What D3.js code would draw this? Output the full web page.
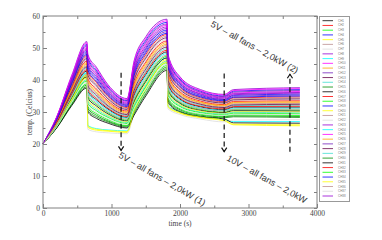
<!DOCTYPE html>
<html>
<head>
<meta charset="utf-8">
<script src="https://cdn.jsdelivr.net/npm/d3@7"></script>
<style>
  body { margin: 0; background: #fff; }
</style>
</head>
<body>
<div id="chart"></div>
<script>
// sample times (s) shared by every channel
var times = [0, 200, 420, 640, 655, 780, 950, 1226, 1330, 1500, 1810, 1825, 2000, 2300, 2650, 2780, 3750];

// temperatures (Celcius) per channel, CH1 .. CH38
var temps = [
    [20, 26.3, 35.5, 42.8, 36.5, 33.8, 30.9, 28.3, 35.2, 41.7, 48.8, 38.5, 34.0, 31.6, 30.7, 31.5, 31.5],
    [20, 27.4, 38.6, 47.6, 42.5, 39.2, 34.9, 31.4, 40.8, 47.9, 54.2, 43.5, 37.7, 34.4, 33.2, 34.4, 34.7],
    [20, 26.0, 34.6, 41.5, 34.9, 32.4, 29.8, 27.5, 33.6, 40.0, 47.4, 37.1, 33.0, 30.8, 30.0, 30.7, 30.6],
    [20, 28.3, 40.9, 51.1, 46.9, 43.0, 37.8, 33.6, 45.0, 52.4, 58.0, 47.1, 40.3, 36.5, 35.0, 36.5, 37.0],
    [20, 26.0, 33.5, 41.0, 25.2, 24.3, 24.0, 23.6, 30.0, 37.0, 46.0, 31.5, 29.6, 28.2, 27.2, 26.0, 25.7],
    [20, 27.3, 38.3, 47.2, 42.0, 38.7, 34.5, 31.1, 40.3, 47.3, 53.7, 43.0, 37.3, 34.2, 33.0, 34.1, 34.4],
    [20, 27.1, 37.8, 46.3, 40.9, 37.7, 33.8, 30.5, 39.3, 46.2, 52.7, 42.1, 36.7, 33.6, 32.5, 33.6, 33.8],
    [20, 28.5, 41.5, 52.0, 48.0, 44.0, 38.5, 34.2, 46.0, 53.5, 59.0, 48.0, 41.0, 37.0, 35.5, 37.0, 37.6],
    [20, 26.4, 34.2, 42.2, 25.8, 24.8, 24.4, 24.1, 30.8, 38.0, 47.0, 32.0, 30.0, 28.6, 27.6, 27.0, 27.0],
    [20, 28.1, 40.3, 50.2, 45.8, 42.1, 37.0, 33.1, 43.9, 51.3, 57.1, 46.2, 39.7, 36.0, 34.6, 35.9, 36.4],
    [20, 26.8, 36.9, 45.0, 39.3, 36.2, 32.7, 29.7, 37.8, 44.5, 51.2, 40.7, 35.7, 32.9, 31.9, 32.8, 32.9],
    [20, 28.2, 40.6, 50.7, 46.4, 42.5, 37.4, 33.4, 44.5, 51.8, 57.5, 46.6, 40.0, 36.2, 34.8, 36.2, 36.7],
    [20, 27.2, 38.0, 46.7, 41.5, 38.2, 34.1, 30.8, 39.8, 46.8, 53.2, 42.5, 37.0, 33.9, 32.8, 33.8, 34.1],
    [20, 26.5, 36.0, 43.7, 37.6, 34.8, 31.6, 28.9, 36.2, 42.8, 49.8, 39.4, 34.7, 32.1, 31.2, 32.0, 32.1],
    [20, 25.2, 32.6, 38.4, 31.1, 29.0, 27.2, 25.6, 30.0, 36.1, 44.0, 33.9, 30.7, 29.0, 28.5, 28.8, 28.6],
    [20, 25.8, 34.3, 41.0, 34.4, 31.9, 29.4, 27.2, 33.1, 39.5, 46.9, 36.6, 32.7, 30.5, 29.8, 30.4, 30.3],
    [20, 27.0, 37.5, 45.9, 40.4, 37.2, 33.4, 30.3, 38.8, 45.6, 52.2, 41.6, 36.3, 33.4, 32.3, 33.3, 33.5],
    [20, 25.3, 32.9, 38.8, 31.6, 29.5, 27.6, 25.8, 30.5, 36.7, 44.5, 34.4, 31.0, 29.3, 28.7, 29.1, 28.9],
    [20, 27.8, 39.5, 48.9, 44.2, 40.6, 36.0, 32.2, 42.4, 49.6, 55.6, 44.8, 38.7, 35.2, 33.9, 35.2, 35.6],
    [20, 25.7, 34.0, 40.6, 33.8, 31.4, 29.0, 26.9, 32.6, 38.9, 46.4, 36.2, 32.3, 30.3, 29.6, 30.1, 30.0],
    [20, 26.7, 36.6, 44.5, 38.7, 35.8, 32.3, 29.4, 37.2, 44.0, 50.8, 40.3, 35.3, 32.6, 31.6, 32.5, 32.7],
    [20, 25.8, 33.0, 40.2, 24.6, 23.8, 23.5, 23.2, 29.5, 36.2, 45.0, 31.0, 29.2, 27.8, 26.9, 27.5, 27.6],
    [20, 28.0, 40.1, 49.8, 45.3, 41.6, 36.7, 32.8, 43.4, 50.7, 56.6, 45.7, 39.3, 35.7, 34.4, 35.7, 36.1],
    [20, 26.2, 35.2, 42.3, 36.0, 33.3, 30.5, 28.1, 34.7, 41.2, 48.3, 38.0, 33.7, 31.3, 30.5, 31.2, 31.2],
    [20, 28.4, 41.2, 51.6, 47.5, 43.5, 38.1, 33.9, 45.5, 52.9, 58.5, 47.5, 40.7, 36.7, 35.3, 36.7, 37.3],
    [20, 26.9, 37.2, 45.4, 39.8, 36.7, 33.0, 30.0, 38.3, 45.1, 51.7, 41.2, 36.0, 33.1, 32.1, 33.0, 33.2],
    [20, 27.7, 39.2, 48.5, 43.6, 40.1, 35.6, 32.0, 41.9, 49.0, 55.1, 44.4, 38.3, 34.9, 33.7, 34.9, 35.3],
    [20, 26.6, 36.3, 44.1, 38.2, 35.3, 31.9, 29.2, 36.7, 43.4, 50.3, 39.8, 35.0, 32.4, 31.4, 32.2, 32.4],
    [20, 25.6, 33.7, 40.1, 33.3, 30.9, 28.7, 26.7, 32.1, 38.4, 45.9, 35.7, 32.0, 30.0, 29.4, 29.9, 29.7],
    [20, 25.1, 32.3, 37.9, 30.5, 28.5, 26.9, 25.3, 29.5, 35.6, 43.5, 33.5, 30.3, 28.7, 28.2, 28.5, 28.3],
    [20, 25.0, 32.0, 37.5, 30.0, 28.0, 26.5, 25.0, 29.0, 35.0, 43.0, 33.0, 30.0, 28.5, 27.8, 26.6, 26.5],
    [20, 26.4, 35.7, 43.2, 37.1, 34.3, 31.2, 28.6, 35.7, 42.3, 49.3, 38.9, 34.3, 31.8, 31.0, 31.7, 31.8],
    [20, 25.5, 33.4, 39.7, 32.7, 30.4, 28.3, 26.4, 31.6, 37.8, 45.4, 35.3, 31.7, 29.8, 29.1, 29.6, 29.4],
    [20, 27.5, 38.9, 48.0, 43.1, 39.6, 35.2, 31.7, 41.4, 48.5, 54.6, 43.9, 38.0, 34.7, 33.5, 34.6, 35.0],
    [20, 26.2, 33.8, 41.6, 25.5, 24.6, 24.2, 23.9, 30.4, 37.5, 45.5, 31.8, 29.8, 28.4, 27.4, 26.2, 26.0],
    [20, 26.1, 34.9, 41.9, 35.5, 32.8, 30.1, 27.8, 34.2, 40.6, 47.8, 37.5, 33.3, 31.1, 30.3, 30.9, 30.9],
    [20, 25.4, 33.2, 39.3, 32.2, 29.9, 27.9, 26.1, 31.1, 37.2, 44.9, 34.8, 31.3, 29.5, 28.9, 29.3, 29.2],
    [20, 27.9, 39.8, 49.4, 44.7, 41.1, 36.3, 32.5, 42.9, 50.1, 56.1, 45.3, 39.0, 35.5, 34.1, 35.4, 35.9]
];

var channels = temps.map(function (d, i) { return "CH" + (i + 1); });

// xmgrace style colour cycle
var palette = ["#000000", "#ff0000", "#00ff00", "#0000ff", "#ffff00", "#bc8f8f", "#dcdcdc",
    "#9400d3", "#00ffff", "#ff00ff", "#ffa500", "#7221bc", "#670748", "#40e0d0", "#008b00"];

var xTicks = [0, 1000, 2000, 3000, 4000];
var xMinor = [500, 1500, 2500, 3500];
var yTicks = [0, 10, 20, 30, 40, 50, 60];
var yMinor = [5, 15, 25, 35, 45, 55];

// dashed markers: time, from temp, to temp (arrow at the "to" end)
var markers = [
    { t: 1140, from: 42.3, to: 18.0, label: "5V \u2013 all fans \u2013 2,0kW (1)" },
    { t: 2645, from: 42.0, to: 17.6, label: "10V \u2013 all fans \u2013 2,0kW" },
    { t: 3605, from: 17.6, to: 41.8, label: "5V \u2013 all fans \u2013 2,0kW (2)" }
];

var W = 382, H = 240;
var mL = 43, mR = 317, mT = 16, mB = 208;
var serif = "'Liberation Serif', 'DejaVu Serif', serif";
var axisColor = "#808080", textColor = "#444";

var svg = d3.select("#chart")
    .append("svg")
    .attr("width", W)
    .attr("height", H);

var x = d3.scaleLinear().domain([0, 4000]).range([mL, mR]);
var y = d3.scaleLinear().domain([0, 60]).range([mB, mT]);

// lines
var lineGen = d3.line()
    .x(function (d, i) { return x(times[i]); })
    .y(function (d) { return y(d); })
    .curve(d3.curveMonotoneX);

svg.append("g")
    .selectAll("path")
    .data(temps)
    .enter()
    .append("path")
    .attr("d", lineGen)
    .attr("fill", "none")
    .attr("stroke", function (d, i) { return palette[i % palette.length]; })
    .attr("stroke-width", 0.8)
    .attr("stroke-linejoin", "round");

// frame
svg.append("rect")
    .attr("x", mL)
    .attr("y", mT)
    .attr("width", mR - mL)
    .attr("height", mB - mT)
    .attr("fill", "none")
    .attr("stroke", axisColor)
    .attr("stroke-width", 1);

function styleAxis(g) {
    g.select(".domain").remove();
    g.selectAll("line").attr("stroke", axisColor);
    g.selectAll("text")
        .attr("font-family", serif)
        .attr("font-size", "7.5px")
        .attr("fill", textColor);
}

svg.append("g")
    .attr("transform", "translate(0," + mB + ")")
    .call(d3.axisBottom(x).tickValues(xTicks).tickSize(-4).tickPadding(3).tickFormat(d3.format("d")))
    .call(styleAxis);
svg.append("g")
    .attr("transform", "translate(0," + mB + ")")
    .call(d3.axisBottom(x).tickValues(xMinor).tickSize(-2.5).tickFormat(""))
    .call(styleAxis);
svg.append("g")
    .attr("transform", "translate(0," + mT + ")")
    .call(d3.axisTop(x).tickValues(xTicks.concat(xMinor)).tickSize(-3).tickFormat(""))
    .call(styleAxis);

svg.append("g")
    .attr("transform", "translate(" + mL + ",0)")
    .call(d3.axisLeft(y).tickValues(yTicks).tickSize(-4).tickPadding(3))
    .call(styleAxis);
svg.append("g")
    .attr("transform", "translate(" + mL + ",0)")
    .call(d3.axisLeft(y).tickValues(yMinor).tickSize(-2.5).tickFormat(""))
    .call(styleAxis);
svg.append("g")
    .attr("transform", "translate(" + mR + ",0)")
    .call(d3.axisRight(y).tickValues(yTicks.concat(yMinor)).tickSize(-3).tickFormat(""))
    .call(styleAxis);

// axis titles
svg.append("text")
    .attr("x", (mL + mR) / 2)
    .attr("y", 226)
    .attr("text-anchor", "middle")
    .attr("font-family", serif)
    .attr("font-size", "7.5px")
    .attr("fill", textColor)
    .text("time (s)");

svg.append("text")
    .attr("transform", "translate(32," + ((mT + mB) / 2) + ") rotate(-90)")
    .attr("text-anchor", "middle")
    .attr("font-family", serif)
    .attr("font-size", "7.5px")
    .attr("fill", textColor)
    .text("temp. (Celcius)");

// dashed arrows
var labelPos = [[118, 157, 30], [226, 160, 29], [210, 26, 29]];
markers.forEach(function (m, i) {
    var mx = x(m.t), y0 = y(m.from), y1 = y(m.to);
    svg.append("line")
        .attr("x1", mx).attr("x2", mx)
        .attr("y1", y0).attr("y2", y1)
        .attr("stroke", "#111")
        .attr("stroke-width", 1.2)
        .attr("stroke-dasharray", "5,3.5");
    var dir = y1 > y0 ? -1 : 1;
    svg.append("path")
        .attr("d", "M" + (mx - 2.6) + "," + (y1 + dir * 4) + "L" + mx + "," + y1 + "L" + (mx + 2.6) + "," + (y1 + dir * 4))
        .attr("fill", "none")
        .attr("stroke", "#111")
        .attr("stroke-width", 1.2);
    svg.append("text")
        .attr("transform", "translate(" + labelPos[i][0] + "," + labelPos[i][1] + ") rotate(" + labelPos[i][2] + ")")
        .attr("font-family", "'Liberation Sans', Arial, sans-serif")
        .attr("font-size", "9px")
        .attr("fill", "#333")
        .text(m.label);
});

// legend
var legend = svg.append("g");
legend.append("rect")
    .attr("x", 319.5)
    .attr("y", 16.5)
    .attr("width", 30)
    .attr("height", 185)
    .attr("fill", "#fff")
    .attr("stroke", "#999")
    .attr("stroke-width", 1);

var ly = d3.scalePoint().domain(channels).range([20.7, 196]);
channels.forEach(function (c, i) {
    legend.append("line")
        .attr("x1", 322.5).attr("x2", 333)
        .attr("y1", ly(c)).attr("y2", ly(c))
        .attr("stroke", palette[i % palette.length])
        .attr("stroke-width", 0.8);
    legend.append("text")
        .attr("x", 338)
        .attr("y", ly(c) + 1)
        .attr("font-family", "'Liberation Sans', sans-serif")
        .attr("font-size", "3px")
        .attr("fill", "#777")
        .text(c);
});
</script>
</body>
</html>
